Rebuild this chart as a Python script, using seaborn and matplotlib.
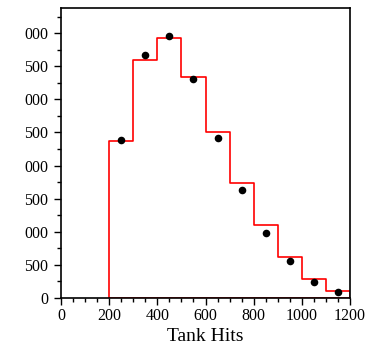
import numpy as np
import pandas as pd
import matplotlib
matplotlib.use("Agg")
import matplotlib.pyplot as plt
import seaborn as sns
from matplotlib.ticker import MultipleLocator

# Data
bin_edges = [200, 300, 400, 500, 600, 700, 800, 900, 1000, 1100, 1200]
bin_centers = [250, 350, 450, 550, 650, 750, 850, 950, 1050, 1150]
mc_counts = [2370, 3588, 3934, 3340, 2500, 1732, 1102, 614, 282, 106]
data_counts = [2384, 3668, 3964, 3306, 2410, 1626, 976, 554, 236, 86]
y_ticks = [0, 500, 1000, 1500, 2000, 2500, 3000, 3500, 4000]
y_tick_labels = ["0", "500", "000", "500", "000", "500", "000", "500", "000"]
x_ticks = [0, 200, 400, 600, 800, 1000, 1200]
x_label = "Tank Hits"

sns.set_theme(style="ticks")
plt.rcParams["font.family"] = ["Liberation Serif", "DejaVu Serif"]

fig = plt.figure(figsize=(3.66, 3.46), dpi=100)
ax = fig.add_axes([61/366, 48/346, 289/366, 290/346])

df_mc = pd.DataFrame({"x": bin_centers, "w": mc_counts})
sns.histplot(data=df_mc, x="x", weights="w", bins=bin_edges, element="step",
             fill=True, color="red", linewidth=1.2, ax=ax)
for coll in ax.collections:
    coll.set_facecolor("none")
    coll.set_edgecolor("red")
    coll.set_alpha(1)

df_data = pd.DataFrame({"x": bin_centers, "y": data_counts})
sns.scatterplot(data=df_data, x="x", y="y", color="black", s=30,
                edgecolor="black", linewidth=0, ax=ax, zorder=3)

ax.set_xlim(0, 1200)
ax.set_ylim(0, 4380)
ax.set_xticks(x_ticks)
ax.set_xticklabels([str(t) for t in x_ticks])
ax.set_yticks(y_ticks)
ax.set_yticklabels(y_tick_labels)
ax.xaxis.set_minor_locator(MultipleLocator(50))
ax.yaxis.set_minor_locator(MultipleLocator(250))
ax.tick_params(axis="both", which="major", length=5, width=1, labelsize=11.5,
               color="black", labelcolor="black", direction="out", pad=2)
ax.tick_params(axis="y", which="major", pad=4)
ax.tick_params(axis="both", which="minor", length=3, width=1, color="black",
               direction="out")
for sp in ax.spines.values():
    sp.set_visible(True)
    sp.set_color("black")
    sp.set_linewidth(1.2)
ax.set_xlabel(x_label, fontsize=14, color="black", labelpad=3)
ax.set_ylabel("")

fig.savefig("out.png", dpi=100)
